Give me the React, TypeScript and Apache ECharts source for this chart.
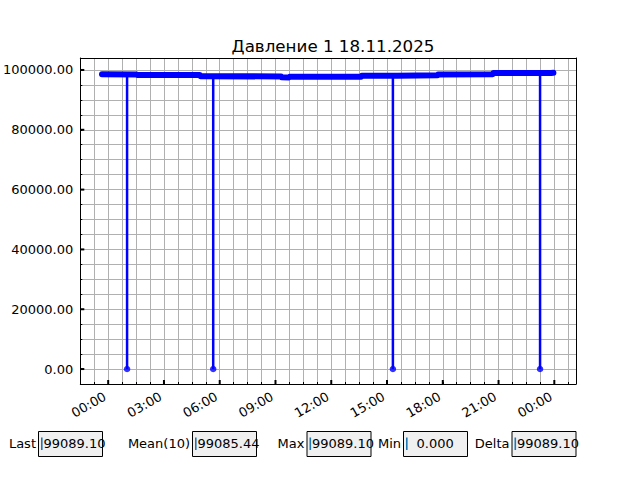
import React, { useEffect, useRef } from "react";
import * as echarts from "echarts";

// ---- data ----
const titleText = "Давление 1 18.11.2025";

const baseTimes = [
  "2025-11-17 23:40", "2025-11-18 01:32", "2025-11-18 01:34", "2025-11-18 04:56",
  "2025-11-18 04:58", "2025-11-18 09:18", "2025-11-18 09:20", "2025-11-18 09:44",
  "2025-11-18 09:46", "2025-11-18 13:37", "2025-11-18 13:39", "2025-11-18 15:33",
  "2025-11-18 15:35", "2025-11-18 17:43", "2025-11-18 17:45", "2025-11-18 20:41",
  "2025-11-18 20:43", "2025-11-18 23:50", "2025-11-18 23:57",
];
const baseValues = [
  98530, 98520, 98330, 98320,
  97870, 97850, 97530, 97520,
  97760, 97750, 98090, 98100,
  98200, 98210, 98520, 98540,
  98990, 99010, 99089.1,
];

const dropTimes = ["2025-11-18 01:01", "2025-11-18 05:39", "2025-11-18 15:19", "2025-11-18 23:14"];
const dropTops = [98525, 97860, 98095, 99000];
const dropBottoms = [0, 0, 0, 0];

const xMajorTimes = [
  "2025-11-18 00:00", "2025-11-18 03:00", "2025-11-18 06:00", "2025-11-18 09:00",
  "2025-11-18 12:00", "2025-11-18 15:00", "2025-11-18 18:00", "2025-11-18 21:00",
  "2025-11-19 00:00",
];
const yMajorTicks = [0, 20000, 40000, 60000, 80000, 100000];

const statLabels = ["Last", "Mean(10)", "Max", "Min", "Delta"];
const statValues = ["99089.10", "99085.44", "99089.10", "0.000", "99089.10"];

// ---- layout ----
const boxLeft = [38.5, 192.5, 307, 403.5, 512];
const valueInset = [5, 5, 5, 13, 5];

const parseT = (s: string) => Date.parse(s.replace(" ", "T") + ":00Z");

const X_MIN = parseT("2025-11-17 22:30");
const X_MAX = parseT("2025-11-19 01:10");
const Y_MIN = -5000;
const Y_MAX = 104000;
const MIN45 = 45 * 60000;

const FONT = "DejaVu Sans";

export default function App() {
  const ref = useRef<HTMLDivElement>(null);

  useEffect(() => {
    if (!ref.current) return;
    const chart = echarts.init(ref.current, null, { renderer: "svg" });

    const lineData = baseTimes.map((t, i) => [parseT(t), baseValues[i]]);
    const dropSeries = dropTimes.map((t, i) => ({
      type: "line",
      data: [
        [parseT(t), dropTops[i]],
        [parseT(t), dropBottoms[i]],
      ],
      symbol: "none",
      lineStyle: { color: "#0000ff", width: 2.5 },
      z: 3,
      silent: true,
    }));

    const pad2 = (n: number) => (n < 10 ? "0" : "") + n;

    const graphics: any[] = [];
    statLabels.forEach((lab, i) => {
      const bx = boxLeft[i];
      graphics.push({
        type: "text",
        x: bx - 2.5,
        y: 443.5,
        style: { text: lab, font: `13px '${FONT}'`, fill: "#000", align: "right", verticalAlign: "middle" },
      });
      graphics.push({
        type: "rect",
        shape: { x: bx, y: 431.5, width: 64, height: 25 },
        style: { fill: "#f0f0f0", stroke: "#000", lineWidth: 1 },
      });
      graphics.push({
        type: "rect",
        shape: { x: bx + 2.5, y: 437.5, width: 1.6, height: 12.5 },
        style: { fill: "#1f77b4" },
      });
      graphics.push({
        type: "text",
        x: bx + valueInset[i],
        y: 443.5,
        style: { text: statValues[i], font: `13px '${FONT}'`, fill: "#000", align: "left", verticalAlign: "middle" },
      });
    });

    const option: any = {
      animation: false,
      textStyle: { fontFamily: FONT },
      title: {
        text: titleText,
        left: 328,
        top: 32,
        textAlign: "center",
        textStyle: { fontFamily: FONT, fontSize: 16.7, fontWeight: "normal", color: "#000" },
      },
      grid: { left: 80, top: 58, width: 496, height: 326, containLabel: false },
      xAxis: [
        {
          type: "value",
          min: X_MIN,
          max: X_MAX,
          interval: MIN45,
          axisLine: { show: true, onZero: false, lineStyle: { color: "#000", width: 1 } },
          axisTick: { show: true, inside: true, length: 2, lineStyle: { color: "#000", width: 1 } },
          splitLine: { show: true, showMinLine: false, showMaxLine: false, lineStyle: { color: "#b0b0b0", width: 1 } },
          axisLabel: {
            rotate: 30,
            margin: 17,
            verticalAlign: "bottom",
            align: "right",
            fontFamily: FONT,
            fontSize: 13,
            color: "#000",
            showMinLabel: true,
            showMaxLabel: true,
            hideOverlap: false,
            formatter: (v: number) => {
              const d = new Date(v);
              if (v % MIN45 === 0 && d.getUTCMinutes() === 0 && d.getUTCHours() % 3 === 0) {
                return pad2(d.getUTCHours()) + ":" + pad2(d.getUTCMinutes());
              }
              return "";
            },
          },
        },
        {
          type: "value",
          position: "top",
          min: X_MIN,
          max: X_MAX,
          axisLine: { show: true, onZero: false, lineStyle: { color: "#000", width: 1 } },
          axisTick: { show: false },
          axisLabel: { show: false },
          splitLine: { show: false },
        },
      ],
      yAxis: [
        {
          type: "value",
          min: Y_MIN,
          max: Y_MAX,
          interval: 5000,
          axisLine: { show: true, onZero: false, lineStyle: { color: "#000", width: 1 } },
          axisTick: { show: true, inside: true, length: 2, lineStyle: { color: "#000", width: 1 } },
          splitLine: { show: true, showMinLine: false, showMaxLine: false, lineStyle: { color: "#b0b0b0", width: 1 } },
          axisLabel: {
            margin: 7,
            fontFamily: FONT,
            fontSize: 13,
            color: "#000",
            showMinLabel: true,
            showMaxLabel: true,
            formatter: (v: number) =>
              v >= 0 && v <= 100000 && v % 20000 === 0 ? v.toFixed(2) : "",
          },
        },
        {
          type: "value",
          position: "right",
          min: Y_MIN,
          max: Y_MAX,
          axisLine: { show: true, onZero: false, lineStyle: { color: "#000", width: 1 } },
          axisTick: { show: false },
          axisLabel: { show: false },
          splitLine: { show: false },
        },
      ],
      series: [
        {
          type: "line",
          data: lineData,
          symbol: "none",
          lineStyle: { color: "#0000ff", width: 6, cap: "round", join: "round" },
          z: 4,
          silent: true,
        },
        ...dropSeries,
        {
          type: "scatter",
          data: dropTimes.map((t, i) => [parseT(t), dropBottoms[i]]),
          symbol: "circle",
          symbolSize: 6.5,
          itemStyle: { color: "#0000ff" },
          z: 5,
          silent: true,
        },
        {
          type: "custom",
          silent: true,
          clip: false,
          z: 6,
          data: xMajorTimes.map((t) => [parseT(t), Y_MIN]),
          renderItem: (_p: any, api: any) => {
            const p = api.coord([api.value(0), api.value(1)]);
            return { type: "rect", shape: { x: p[0] - 1, y: p[1] - 4, width: 2, height: 4 }, style: { fill: "#000" } };
          },
        },
        {
          type: "custom",
          silent: true,
          clip: false,
          z: 6,
          data: yMajorTicks.map((v) => [X_MIN, v]),
          renderItem: (_p: any, api: any) => {
            const p = api.coord([api.value(0), api.value(1)]);
            return { type: "rect", shape: { x: p[0], y: p[1] - 1, width: 4, height: 2 }, style: { fill: "#000" } };
          },
        },
      ],
      graphic: graphics,
    };

    chart.setOption(option);
    return () => chart.dispose();
  }, []);

  return (
    <div
      ref={ref}
      style={{ position: "fixed", left: 0, top: 0, width: 640, height: 480, background: "#fff" }}
    />
  );
}
